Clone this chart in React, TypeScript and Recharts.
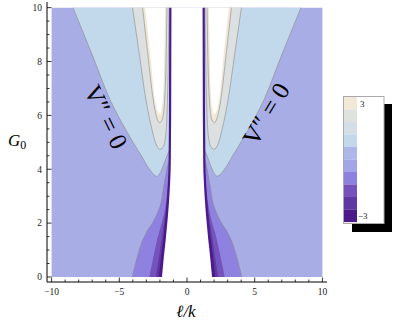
import React from 'react';
import { ComposedChart, Area, Line, XAxis, YAxis } from 'recharts';

// ---- data (left half; right half is the mirror image, as in the picture) ----
const plotBox: [number, number][] = [[-10, 10], [10, 10]];
// lavender / light-blue boundary  (V'' = 0)
const blueEdge: [number, number][] = [[-8.42, 10], [-7.0, 8.25], [-5.7, 6.6], [-4.5, 5.45], [-3.36, 4.49], [-2.7, 3.95], [-2.24, 3.74], [-1.95, 3.9], [-1.63, 4.3], [-1.4, 4.6], [-1.2, 4.8]];
// light-blue / grey boundary
const greyEdge: [number, number][] = [[-4.02, 10], [-3.53, 8.3], [-3.04, 6.6], [-2.6, 5.5], [-2.3, 4.95], [-2.0, 4.74], [-1.75, 4.85], [-1.55, 5.37], [-1.45, 6.5], [-1.38, 8], [-1.33, 10]];
// grey / beige boundary
const beigeEdge: [number, number][] = [[-3.28, 10], [-2.9, 8.3], [-2.5, 6.6], [-2.25, 5.95], [-2.02, 5.73], [-1.8, 5.9], [-1.65, 6.6], [-1.55, 8], [-1.48, 10]];
// beige / white (above range) boundary
const whiteEdge: [number, number][] = [[-3.09, 10], [-2.72, 8.3], [-2.37, 6.6], [-2.18, 6.15], [-1.98, 6.04], [-1.85, 6.3], [-1.75, 7.0], [-1.68, 8.3], [-1.62, 10]];
// purple levels near the bottom
const purple1Edge: [number, number][] = [[-4.05, 0], [-3.75, 0.6], [-3.4, 1.2], [-3.0, 1.65], [-2.5, 2.05], [-2.13, 2.45], [-1.87, 2.87], [-1.75, 3.25], [-1.6, 3.7], [-1.4, 4.2], [-1.2, 4.5]];
const purple2Edge: [number, number][] = [[-2.79, 0], [-2.5, 0.7], [-2.2, 1.4], [-1.87, 2.0], [-1.6, 2.6], [-1.45, 3.2], [-1.3, 4.0], [-1.2, 4.4]];
const purple3Edge: [number, number][] = [[-2.3, 0], [-2.08, 0.7], [-1.87, 1.4], [-1.67, 2.1], [-1.5, 2.8], [-1.38, 3.5], [-1.28, 4.2], [-1.2, 4.6]];
const purple4Edge: [number, number][] = [[-2.08, 0], [-1.93, 0.7], [-1.75, 1.4], [-1.59, 2.1], [-1.46, 2.8], [-1.36, 3.5], [-1.28, 4.2], [-1.2, 4.8]];
// edge of the undefined (white) slot
const slotEdge: [number, number][] = [[-1.93, 0], [-1.8, 0.7], [-1.65, 1.4], [-1.52, 2.1], [-1.41, 2.8], [-1.33, 3.5], [-1.28, 4.2], [-1.25, 6], [-1.23, 10]];

const xTicks = [-10, -9, -8, -7, -6, -5, -4, -3, -2, -1, 0, 1, 2, 3, 4, 5, 6, 7, 8, 9, 10];
const xMajor = [-10, -5, 0, 5, 10];
const yTicks = [0, 0.5, 1, 1.5, 2, 2.5, 3, 3.5, 4, 4.5, 5, 5.5, 6, 6.5, 7, 7.5, 8, 8.5, 9, 9.5, 10];
const yMajor = [0, 2, 4, 6, 8, 10];

const legendColors = ['#F2E8D8', '#E0E2E0', '#D3DEE6', '#C3D8EC', '#ADB8E9', '#A3A6E6', '#8E80DF', '#7553BA', '#5F38A4', '#4D1A8B'];
const legendLabels = ['3', '−3'];
const curveLabel = 'V″ = 0';

// ---- helpers ----
const mirror = (p: [number, number][]) => p.map(([x, y]) => [-x, y] as [number, number]).reverse();
const upper = (p: [number, number][]) => p.map(([x, y]) => ({ x, r: [y, 10] }));
const lower = (p: [number, number][]) => p.map(([x, y]) => ({ x, r: [0, y] }));
const pts = (p: [number, number][]) => p.map(([x, y]) => ({ x, y }));
const fmt = (v: number) => (v < 0 ? '−' + Math.abs(v) : String(v));

const C = {
  lav: '#A8ADE6', blue: '#C2D8EB', grey: '#DDE0E0', beige: '#F1E7D6',
  p1: '#8F81DF', p2: '#7453BA', p3: '#5F37A4', p4: '#4C1A8B', line: '#8a8a8a',
};
const FONT = '"Liberation Serif", "Times New Roman", serif';

const BottomTick = (props: any) => {
  const { x, y, payload } = props;
  const major = xMajor.includes(payload.value);
  return (
    <g>
      <line x1={x} x2={x} y1={y} y2={y - (major ? 4.5 : 2.5)} stroke="#000" strokeWidth={0.8} />
      {major && (
        <text x={x} y={y + 13} textAnchor="middle" fontSize={9.5} fontFamily={FONT} fill="#222">{fmt(payload.value)}</text>
      )}
    </g>
  );
};
const TopTick = (props: any) => {
  const { x, y, payload } = props;
  const major = xMajor.includes(payload.value);
  return <line x1={x} x2={x} y1={y} y2={y + (major ? 4.5 : 2.5)} stroke="#000" strokeWidth={0.8} />;
};
const LeftTick = (props: any) => {
  const { x, y, payload } = props;
  const major = yMajor.includes(payload.value);
  return (
    <g>
      <line x1={x} x2={x + (major ? 4.5 : 2.5)} y1={y} y2={y} stroke="#000" strokeWidth={0.8} />
      {major && (
        <text x={x - 5} y={y + 3.3} textAnchor="end" fontSize={9.5} fontFamily={FONT} fill="#222">{fmt(payload.value)}</text>
      )}
    </g>
  );
};
const RightTick = (props: any) => {
  const { x, y, payload } = props;
  const major = yMajor.includes(payload.value);
  return <line x1={x} x2={x - (major ? 4.5 : 2.5)} y1={y} y2={y} stroke="#000" strokeWidth={0.8} />;
};

const region = (key: string, data: any[], fill: string) => (
  <Area key={key} xAxisId="b" yAxisId="l" data={data} dataKey="r" type="monotone" fill={fill} fillOpacity={1} stroke="none" isAnimationActive={false} />
);
const contour = (key: string, data: any[], stroke = C.line, w = 0.6) => (
  <Line key={key} xAxisId="b" yAxisId="l" data={data} dataKey="y" type="monotone" stroke={stroke} strokeWidth={w} dot={false} activeDot={false} isAnimationActive={false} />
);

export default function App() {
  const both = (p: [number, number][]) => [p, mirror(p)];
  return (
    <div style={{ position: 'absolute', left: 0, top: 0, width: 400, height: 328, background: '#fff' }}>
      <ComposedChart width={400} height={328} margin={{ top: 2, right: 73, bottom: 16, left: 0 }}>
        <XAxis xAxisId="b" type="number" dataKey="x" domain={[-10.34, 10.34]} ticks={xTicks} interval={0}
          allowDataOverflow tickSize={0} tickMargin={0} height={30} tick={<BottomTick />} axisLine={{ stroke: '#000' }} tickLine={false} />
        <XAxis xAxisId="t" orientation="top" type="number" dataKey="x" domain={[-10.34, 10.34]} ticks={xTicks} interval={0}
          allowDataOverflow tickSize={0} tickMargin={0} height={0} tick={<TopTick />} axisLine={{ stroke: '#000' }} tickLine={false} />
        <YAxis yAxisId="l" type="number" domain={[-0.186, 10.21]} ticks={yTicks} interval={0} allowDataOverflow
          tickSize={0} tickMargin={0} width={47} tick={<LeftTick />} axisLine={{ stroke: '#000' }} tickLine={false} />
        <YAxis yAxisId="r" orientation="right" type="number" domain={[-0.186, 10.21]} ticks={yTicks} interval={0} allowDataOverflow
          tickSize={0} tickMargin={0} width={0} tick={<RightTick />} axisLine={{ stroke: '#000' }} tickLine={false} />
        {region('bg', plotBox.map(([x, y]) => ({ x, r: [0, y] })), C.lav)}
        {both(blueEdge).map((p, i) => region('blue' + i, upper(p), C.blue))}
        {both(greyEdge).map((p, i) => region('grey' + i, upper(p), C.grey))}
        {both(beigeEdge).map((p, i) => region('beige' + i, upper(p), C.beige))}
        {both(whiteEdge).map((p, i) => region('white' + i, upper(p), '#fff'))}
        {both(purple1Edge).map((p, i) => region('p1' + i, lower(p), C.p1))}
        {both(purple2Edge).map((p, i) => region('p2' + i, lower(p), C.p2))}
        {both(purple3Edge).map((p, i) => region('p3' + i, lower(p), C.p3))}
        {both(purple4Edge).map((p, i) => region('p4' + i, lower(p), C.p4))}
        {[blueEdge, greyEdge, beigeEdge, purple1Edge].flatMap((e, j) =>
          both(e).map((p, i) => contour('c' + j + '_' + i, pts(p))))}
        {both(slotEdge).map((p, i) => contour('se' + i, pts(p), C.p4, 2.2))}
        {region('slot', lower([...slotEdge, ...mirror(slotEdge)]), '#fff')}

        <text x={8} y={146} fontSize={17} fontStyle="italic" fontFamily={FONT} fill="#000">G<tspan fontStyle="normal" fontSize={12} dy={3}>0</tspan></text>
        <text x={186} y={317} textAnchor="middle" fontSize={17} fontStyle="italic" fontFamily={FONT} fill="#000">ℓ/k</text>

        <g>
          <rect x={352} y={104} width={40} height={128} fill="#000" />
          <rect x={343.5} y={96.5} width={40.5} height={127} fill="#fff" stroke="#aaa" strokeWidth={1} />
          {legendColors.map((c, i) => (
            <rect key={c} x={344} y={97 + i * 12.5} width={13} height={12.6} fill={c} />
          ))}
          <text x={360} y={107} fontSize={9} fontFamily={FONT} fill="#222">{legendLabels[0]}</text>
          <text x={358} y={219} fontSize={9} fontFamily={FONT} fill="#222">{legendLabels[1]}</text>
        </g>
      </ComposedChart>
      <svg width={400} height={328} style={{ position: 'absolute', left: 0, top: 0, pointerEvents: 'none' }}>
        <text transform="translate(106,117) rotate(64)" textAnchor="middle" dominantBaseline="central" fontSize={25} fontFamily={FONT} fill="#000">{curveLabel}</text>
        <text transform="translate(266,114) rotate(-59)" textAnchor="middle" dominantBaseline="central" fontSize={25} fontFamily={FONT} fill="#000">{curveLabel}</text>
      </svg>
    </div>
  );
}
